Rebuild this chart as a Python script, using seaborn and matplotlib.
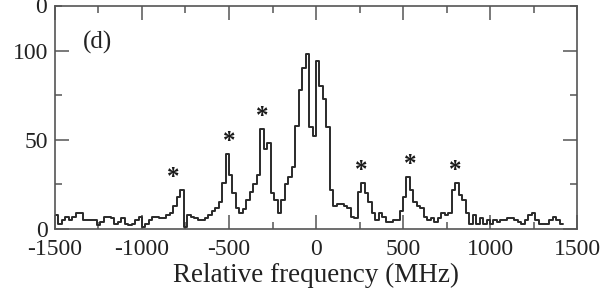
import numpy as np
import pandas as pd
import matplotlib
matplotlib.use("Agg")
import matplotlib.pyplot as plt
from matplotlib.ticker import MultipleLocator
import seaborn as sns

# Histogram counts, 20 MHz bins starting at -1500 MHz
bin_start = -1500
bin_width = 20
counts = [8, 3, 5, 7, 5, 7, 9, 9, 5, 5, 5, 5, 2, 4, 7, 7, 6, 3, 4, 6,
          3, 2, 3, 5, 7, 1, 3, 5, 7,
          7, 6, 6, 8, 9, 13, 18, 22,
          1, 8, 7, 6, 5, 5, 6, 8, 10, 12, 15, 26,
          42, 30, 20, 12, 9, 11, 16, 21, 25, 30, 56, 45, 48,
          20, 16, 9, 16, 25, 29, 35, 58, 78, 90, 98, 57, 52, 94, 80,
          73, 57,
          22, 13, 14, 14, 13, 12, 7, 6, 21, 26, 20, 15, 9, 5, 9, 7, 4, 4, 5, 5,
          10, 18, 29, 22, 15, 13,
          12, 7, 5, 6, 4, 6, 9, 8, 9, 22, 26, 19, 16, 9, 3, 8, 3, 6, 3, 5,
          3, 5, 4, 5, 5, 6, 6, 5, 4, 3, 5, 8, 9, 5, 3, 3, 3, 5, 7, 5, 3]

# sideband peaks marked with an asterisk (MHz)
star_freqs = [-820, -500, -310, 260, 540, 800]
panel_label = "(d)"
x_ticks = [-1500, -1000, -500, 0, 500, 1000, 1500]
y_ticks = [0, 50, 100]

edges = bin_start + bin_width * np.arange(len(counts) + 1)
centers = edges[:-1] + bin_width / 2
df = pd.DataFrame({"freq": centers, "count": counts})

sns.set_style("ticks")
plt.rcParams["font.family"] = ["Liberation Serif", "DejaVu Serif"]
plt.rcParams["axes.unicode_minus"] = False

fig = plt.figure(figsize=(6.03, 2.90), dpi=100)
ax = fig.add_axes([0.0912, 0.2103, 0.8657, 0.769])

sns.histplot(data=df, x="freq", weights="count", binwidth=bin_width,
             binrange=(float(edges[0]), float(edges[-1])), element="step",
             fill=False, color="#2a2a2a", linewidth=1.4, ax=ax)

# asterisks sit a little above the local maximum
cnt = np.array(counts)
for f in star_freqs:
    near = np.abs(centers - f) <= 60
    ax.text(f, cnt[near].max() + 7, "*", ha="center", va="center",
            fontsize=18, color="#1a1a1a", fontweight="bold")

ax.text(0.081, 0.835, panel_label, transform=ax.transAxes, ha="center",
        va="center", fontsize=18, color="#222222")

ax.set_xlim(-1500, 1500)
ax.set_ylim(0, 125)
ax.set_xticks(x_ticks)
ax.set_yticks(y_ticks)
ax.xaxis.set_minor_locator(MultipleLocator(250))
ax.yaxis.set_minor_locator(MultipleLocator(25))
ax.tick_params(which="both", direction="in", top=True, right=True,
               colors="#555555", labelcolor="#222222", labelsize=17, width=1.1)
ax.tick_params(which="major", length=10)
ax.tick_params(which="minor", length=5)
ax.tick_params(axis="x", which="major", pad=7.5)
ax.tick_params(axis="y", which="major", pad=5)
for s in ax.spines.values():
    s.set_color("#555555")
    s.set_linewidth(1.2)

ax.set_xlabel("Relative frequency (MHz)", fontsize=19.5, color="#222222", labelpad=1.5)
ax.set_ylabel("")

# bottom of the zero label from the panel above, cut by the figure edge
fig.text(47 / 603, 1 - 13 / 290, "0", ha="right", va="baseline",
         fontsize=17, color="#222222")

fig.savefig("out.png", dpi=100)
